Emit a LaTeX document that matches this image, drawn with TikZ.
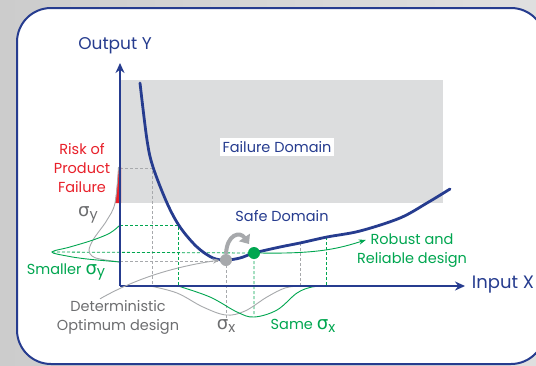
\documentclass[tikz,border=0pt]{standalone}
\usepackage{fontspec}
\setmainfont{Poppins}
\newfontfamily\symfont[Scale=1.25]{DejaVu Sans}
\usepackage{tikz}
\usetikzlibrary{positioning, arrows.meta}

\definecolor{navy}{HTML}{263C8F}
\definecolor{riskred}{HTML}{E8202A}
\definecolor{safegreen}{HTML}{00A650}
\definecolor{labelgrey}{HTML}{6D6E70}
\definecolor{linegrey}{HTML}{A7A9AC}
\definecolor{domaingrey}{HTML}{DCDDDE}

\newcommand{\sig}[1]{{\symfont σ}\raisebox{-0.35ex}{#1}}

\begin{document}
\begin{tikzpicture}[
x=1pt, y=-1pt,
>=Stealth,
axis/.style={draw=navy, line width=1.8pt, -{Stealth[length=10pt, width=9pt]}},
response/.style={draw=navy, line width=2.8pt, line cap=round},
guide/.style={dash pattern=on 3pt off 2pt, line width=0.8pt},
bell/.style={line width=0.9pt},
dot/.style={circle, inner sep=0pt, minimum size=12pt},
lbl/.style={font=\fontsize{14.5}{19}\selectfont, align=center, inner sep=1pt}
]

% background and frame
\shade[left color=gray!40, right color=gray!25] (0,0) rectangle (536,365);
\useasboundingbox (0,0) rectangle (536,365);
\draw[navy, line width=2pt, fill=white, rounded corners=34pt] (17,8) rectangle (545,364);

% failure domain
\fill[domaingrey] (120,80) rectangle (443,203);
\node[lbl, text=navy, fill=white, inner sep=3pt] (fail) at (277,147) {Failure Domain};

% dashed guides
\draw[guide, linegrey] (120,168) -- (152,168) -- (152,286);
\draw[guide, linegrey] (120,261) -- (226,261) -- (226,318);
\draw[guide, linegrey] (300,243) -- (300,286);
\draw[guide, safegreen] (120,225) -- (178,225) -- (178,286);
\draw[guide, safegreen] (52,252) -- (254,253) -- (254,316);
\draw[guide, safegreen] (326,237) -- (326,286);

% spread of output
\fill[riskred] (118.5,167) .. controls (117.5,182) and (116.5,192) .. (115,203) -- (121,203) -- (121,167) -- cycle;
\draw[bell, linegrey] plot[smooth, tension=0.6] coordinates
  {(118.5,167) (115,203) (107,220) (100,230) (93,240) (89,250) (92,256) (100,259) (120,262)};
\draw[bell, safegreen] plot[smooth, tension=0.6] coordinates
  {(120,225) (110,233) (93,240) (70,247) (52,252) (67,256) (87,259) (120,262)};

% spread of input
\draw[bell, linegrey] plot[smooth, tension=0.6] coordinates
  {(150,286) (177,293) (203,307) (226,315) (245,311) (267,297) (285,288) (300,286)};
\draw[bell, safegreen] plot[smooth, tension=0.6] coordinates
  {(178,286) (210,297) (237,312) (254,317) (277,310) (297,293) (312,287) (326,286)};

% axes
\coordinate (origin) at (120,286);
\coordinate (ytip) at (120,63);
\coordinate (xtip) at (465,286);
\draw[axis] (origin) -- (ytip);
\draw[axis] (origin) -- (xtip);
\node[lbl, text=navy, font=\fontsize{17}{19}\selectfont] (ylab) at (115,46) {Output Y};
\node[lbl, text=navy, font=\fontsize{18}{20}\selectfont] (xlab) at (503,285) {Input X};

% response curve
\draw[response] plot[smooth, tension=0.55] coordinates
  {(140,83) (147,140) (153,167) (167,203) (180,227) (197,247) (213,258) (226,260)
   (240,258) (254,253) (280,247) (300,243) (327,237) (360,231) (400,218) (427,203) (450,189)};

% designs
\node[dot, fill=linegrey] (optdot) at (226,260) {};
\node[dot, fill=safegreen] (robdot) at (254,253) {};
\coordinate (hop) at (249,244);
\draw[linegrey, line width=4pt, -{Triangle[length=8pt, width=13pt]}]
  (optdot.north) .. controls (227,234) and (240,231) .. (hop);

% labels
\node[lbl, text=navy] (safe) at (282,216) {Safe Domain};
\node[lbl, text=riskred] (risk) at (82,168) {Risk of\\Product\\Failure};
\node[lbl, text=labelgrey] (sigy) at (88,215) {\sig{y}};
\node[lbl, text=safegreen] (smaller) at (66,272) {Smaller \sig{y}};
\node[lbl, text=labelgrey] (det) at (118,317) {Deterministic\\Optimum design};
\node[lbl, text=labelgrey] (sigx) at (226,326) {\sig{x}};
\node[lbl, text=safegreen] (same) at (303,326) {Same \sig{x}};
\node[lbl, text=safegreen] (robust) at (412,251) {Robust and\\Reliable design};

% pointers
\draw[->, linegrey, line width=0.9pt] ([xshift=-18pt]det.north) .. controls (140,276) and (180,266) .. (optdot.west);
\draw[->, safegreen, line width=0.9pt] (robdot.east) .. controls (320,254) and (340,248) .. ([xshift=10pt, yshift=-7pt]robust.north west);

\end{tikzpicture}
\end{document}
